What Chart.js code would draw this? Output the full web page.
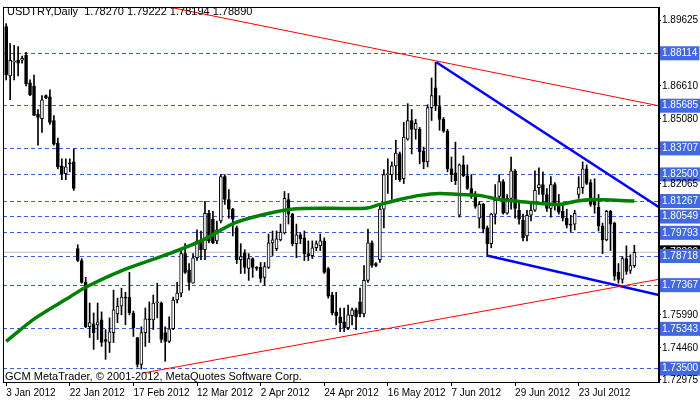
<!DOCTYPE html>
<html>
<head>
<meta charset="utf-8">
<script src="https://cdn.jsdelivr.net/npm/chart.js@4"></script>
<style>
    html, body { margin: 0; padding: 0; background: #ffffff; }
    #wrap { width: 700px; height: 402px; }
</style>
</head>
<body>
<div id="wrap"><canvas id="usdtry_chart"></canvas></div>
<script>
// daily candles USDTRY (bar index 0 = 3 Jan 2012)
const opens  = [1.8935,1.8706,1.8770,1.8779,1.8779,1.8802,1.8674,1.8660,1.8528,1.8509,1.8615,1.8610,1.8500,1.8395,1.8290,1.8253,1.8304,1.8308,
    1.7906,1.7851,1.7750,1.7544,1.7558,1.7553,1.7576,1.7485,1.7471,1.7517,1.7604,1.7640,1.7682,1.7682,1.7608,1.7494,1.7370,1.7517,1.7581,1.7576,1.7654,1.7654,
    1.7517,1.7476,1.7535,1.7668,1.7700,1.7883,1.7805,1.7746,1.7864,1.7942,1.7901,1.8070,1.8043,1.7942,1.8034,1.8240,1.8134,1.8089,1.8002,1.7855,
    1.7887,1.7814,1.7860,1.7819,1.7819,1.7773,1.7819,1.7933,1.7906,1.7947,1.7979,1.8134,1.8066,1.7929,1.7970,1.7956,1.7883,1.7874,1.7910,1.7919,
    1.7942,1.7814,1.7691,1.7613,1.7590,1.7567,1.7540,1.7595,1.7622,1.7659,1.7604,1.7759,1.7933,1.7837,1.7855,1.8089,1.8249,1.8249,1.8290,1.8345,
    1.8230,1.8413,1.8500,1.8459,1.8459,1.8358,1.8308,1.8560,1.8651,1.8564,1.8505,1.8450,1.8276,1.8258,1.8061,1.8294,1.8244,1.8185,1.8148,1.8047,
    1.8111,1.8002,1.7929,1.8066,1.8148,1.8217,1.8070,1.8139,1.8267,1.8084,1.8038,1.7965,1.8061,1.8084,1.8189,1.8203,1.8157,1.8093,1.8203,1.8111,
    1.8079,1.8047,1.8020,1.8020,1.8157,1.8189,1.8276,1.8212,1.8125,1.8098,1.8011,1.7947,1.8079,1.8025,1.7796,1.7764,1.7860,1.7805,1.7827];
const highs  = [1.8949,1.8857,1.8848,1.8843,1.8798,1.8816,1.8688,1.8711,1.8551,1.8615,1.8619,1.8642,1.8523,1.8418,1.8322,1.8322,1.8322,1.8368,
    1.7924,1.7860,1.7773,1.7654,1.7608,1.7654,1.7613,1.7531,1.7585,1.7714,1.7677,1.7723,1.7704,1.7796,1.7617,1.7494,1.7544,1.7631,1.7659,1.7691,1.7746,1.7659,
    1.7544,1.7590,1.7682,1.7750,1.7897,1.7929,1.7837,1.7883,1.7993,1.7988,1.8125,1.8084,1.8079,1.8034,1.8249,1.8249,1.8180,1.8093,1.8011,1.7929,
    1.7901,1.7883,1.7864,1.7823,1.7842,1.7842,1.7974,1.7988,1.7988,1.8020,1.8171,1.8162,1.8070,1.8020,1.7979,1.7988,1.7942,1.7942,1.7942,1.7974,
    1.7956,1.7819,1.7704,1.7704,1.7631,1.7631,1.7645,1.7631,1.7631,1.7723,1.7828,1.7997,1.7942,1.7842,1.8111,1.8272,1.8322,1.8308,1.8409,1.8354,
    1.8491,1.8578,1.8551,1.8505,1.8468,1.8377,1.8573,1.8697,1.8770,1.8615,1.8514,1.8459,1.8331,1.8400,1.8299,1.8336,1.8294,1.8249,1.8171,1.8125,
    1.8116,1.8011,1.8070,1.8203,1.8249,1.8226,1.8157,1.8331,1.8272,1.8116,1.8066,1.8084,1.8125,1.8267,1.8281,1.8262,1.8185,1.8240,1.8212,1.8157,
    1.8116,1.8089,1.8061,1.8084,1.8240,1.8308,1.8294,1.8226,1.8230,1.8157,1.8025,1.8084,1.8084,1.8029,1.7837,1.7869,1.7919,1.7878,1.7922];
const lows   = [1.8688,1.8596,1.8688,1.8706,1.8766,1.8660,1.8615,1.8523,1.8386,1.8445,1.8601,1.8482,1.8386,1.8276,1.8226,1.8226,1.8262,1.8176,
    1.7846,1.7746,1.7540,1.7494,1.7439,1.7485,1.7453,1.7393,1.7425,1.7471,1.7563,1.7599,1.7553,1.7599,1.7499,1.7357,1.7348,1.7453,1.7471,1.7531,1.7585,1.7471,
    1.7384,1.7471,1.7531,1.7654,1.7682,1.7791,1.7714,1.7746,1.7851,1.7855,1.7855,1.7933,1.7929,1.7929,1.8025,1.8111,1.8047,1.7965,1.7837,1.7791,
    1.7791,1.7759,1.7773,1.7805,1.7750,1.7736,1.7814,1.7874,1.7897,1.7942,1.7974,1.8020,1.7919,1.7864,1.7929,1.7851,1.7851,1.7860,1.7897,1.7897,
    1.7791,1.7677,1.7599,1.7553,1.7521,1.7521,1.7531,1.7553,1.7531,1.7590,1.7590,1.7750,1.7819,1.7823,1.7842,1.8002,1.8162,1.8134,1.8226,1.8217,
    1.8208,1.8409,1.8345,1.8413,1.8299,1.8276,1.8285,1.8500,1.8546,1.8455,1.8445,1.8262,1.8217,1.8203,1.8052,1.8240,1.8180,1.8139,1.8093,1.8002,
    1.7979,1.7874,1.7910,1.8020,1.8134,1.8066,1.8066,1.8089,1.8047,1.8020,1.7942,1.7942,1.8034,1.8079,1.8157,1.8111,1.8079,1.8052,1.8084,1.8066,
    1.8034,1.8002,1.7983,1.7993,1.8139,1.8162,1.8203,1.8102,1.8070,1.7988,1.7883,1.7942,1.7897,1.7759,1.7746,1.7746,1.7787,1.7791,1.7819];
const closes = [1.8711,1.8779,1.8775,1.8766,1.8788,1.8670,1.8619,1.8523,1.8514,1.8596,1.8605,1.8491,1.8390,1.8285,1.8253,1.8285,1.8299,1.8185,
    1.7851,1.7750,1.7544,1.7563,1.7517,1.7567,1.7471,1.7476,1.7521,1.7622,1.7640,1.7682,1.7677,1.7608,1.7540,1.7370,1.7517,1.7581,1.7576,1.7654,1.7659,1.7485,
    1.7476,1.7535,1.7668,1.7700,1.7883,1.7796,1.7750,1.7864,1.7942,1.7901,1.8070,1.7942,1.7933,1.7993,1.8240,1.8134,1.8089,1.8043,1.7855,1.7869,
    1.7819,1.7860,1.7819,1.7814,1.7768,1.7823,1.7933,1.7947,1.7951,1.7983,1.8139,1.8066,1.7929,1.7970,1.7951,1.7883,1.7874,1.7910,1.7929,1.7942,
    1.7796,1.7686,1.7608,1.7595,1.7563,1.7540,1.7599,1.7622,1.7590,1.7604,1.7759,1.7933,1.7828,1.7828,1.8089,1.8249,1.8253,1.8290,1.8349,1.8226,
    1.8423,1.8500,1.8459,1.8487,1.8354,1.8308,1.8560,1.8615,1.8569,1.8505,1.8450,1.8276,1.8249,1.8221,1.8294,1.8244,1.8185,1.8148,1.8102,1.8111,
    1.7997,1.7929,1.8066,1.8130,1.8217,1.8070,1.8139,1.8267,1.8093,1.8043,1.7956,1.8061,1.8084,1.8176,1.8203,1.8157,1.8093,1.8203,1.8107,1.8075,
    1.8047,1.8015,1.8015,1.8070,1.8189,1.8276,1.8208,1.8111,1.8107,1.8011,1.7947,1.8079,1.8020,1.7778,1.7764,1.7860,1.7800,1.7828,1.7889];

// moving average, read at a few bars
const ma_index = [0, 7.4, 16, 20, 28.5, 41, 49, 57.5, 64, 71.7, 81.7, 90.4, 94, 99, 104, 109, 114, 119, 124, 129, 134, 139, 143, 147, 158];
const ma_value = [1.7476,1.7585,1.7682,1.7727,1.7800,1.7883,1.7942,1.8025,1.8061,1.8089,1.8093,1.8093,1.8111,1.8134,1.8153,1.8162,1.8157,1.8153,1.8134,1.8125,1.8116,1.8111,1.8125,1.8134,1.8127];

// trend lines [index, price]
const red_upper  = [[40.9, 1.9026], [164.2, 1.8568]];
const red_lower  = [[34.2, 1.7329], [164.2, 1.7764]];
const blue_upper = [[108.2, 1.8770], [164.2, 1.8098]];
const blue_lower = [[120.9, 1.7874], [164.2, 1.7691]];
const bid_price  = 1.7889;

const date_ticks  = [0, 16, 32, 48, 64, 80, 96, 112, 128, 144];
const date_labels = ["3 Jan 2012","22 Jan 2012","17 Feb 2012","12 Mar 2012","2 Apr 2012","24 Apr 2012","16 May 2012","7 Jun 2012","29 Jun 2012","23 Jul 2012"];

const price_ticks = [1.89625,1.88114,1.86610,1.85685,1.85080,1.83707,1.82500,1.82065,1.81267,1.80549,1.79793,1.78890,1.78718,1.77367,1.75990,1.75343,1.74460,1.73500,1.72975];
const level_ticks = [1.88114,1.85685,1.83707,1.82500,1.81267,1.80549,1.79793,1.78718,1.77367,1.75343,1.73500];

function is_level(v){
    for (let l of level_ticks){ if (Math.abs(l - v) < 0.000005) return true; }
    return false;
}
function is_bid(v){ return Math.abs(v - bid_price) < 0.000005; }

let wicks = [], bodies = [], body_colors = [];
for (let i = 0; i < closes.length; i++){
    wicks.push({ x: i, y: [lows[i], highs[i]] });
    bodies.push({ x: i, y: [opens[i], closes[i]] });
    body_colors.push(closes[i] >= opens[i] ? "#ffffff" : "#000000");
}
let ma_points = [];
for (let i = 0; i < ma_index.length; i++){ ma_points.push({ x: ma_index[i], y: ma_value[i] }); }
function to_points(line){ return line.map(p => ({ x: p[0], y: p[1] })); }

const frame_plugin = {
    id: "frame",
    afterDraw(chart){
        const c = chart.ctx, a = chart.chartArea;
        c.save();
        c.strokeStyle = "#000000";
        c.lineWidth = 1;
        c.strokeRect(a.left + 0.5, a.top + 0.5, a.right - a.left - 1, a.bottom - a.top);
        c.font = "11px 'Liberation Sans'";
        c.fillStyle = "#000000";
        c.textBaseline = "alphabetic";
        c.fillText("USDTRY,Daily  1.78270 1.79222 1.78194 1.78890", 7, 15);
        c.fillText("GCM MetaTrader, \u00A9 2001-2012, MetaQuotes Software Corp.", 5, 380);
        c.restore();
    }
};

const ctx = document.getElementById("usdtry_chart").getContext("2d");
const chart = new Chart(ctx, {
    type: "bar",
    data: {
        datasets: [
            { type: "line", data: to_points(red_upper), borderColor: "#ff0000", borderWidth: 1, pointRadius: 0, order: 0 },
            { type: "line", data: to_points(red_lower), borderColor: "#ff0000", borderWidth: 1, pointRadius: 0, order: 0 },
            { type: "line", data: to_points(blue_upper), borderColor: "#0000ff", borderWidth: 2.5, pointRadius: 0, order: 0 },
            { type: "line", data: to_points(blue_lower), borderColor: "#0000ff", borderWidth: 2.5, pointRadius: 0, order: 0 },
            { type: "line", data: ma_points, borderColor: "#008000", borderWidth: 3.5, pointRadius: 0, tension: 0.3, order: 1 },
            { type: "line", data: [{ x: -1, y: bid_price }, { x: 165, y: bid_price }], borderColor: "#c0c0c0", borderWidth: 1, pointRadius: 0, order: 5 },
            { data: bodies, backgroundColor: body_colors, borderColor: "#000000", borderWidth: 1, borderSkipped: false,
              barThickness: 3, minBarLength: 1, order: 2, grouped: false },
            { data: wicks, backgroundColor: "#000000", borderWidth: 0, barThickness: 1, order: 3, grouped: false }
        ]
    },
    options: {
        responsive: true,
        maintainAspectRatio: false,
        animation: false,
        events: [],
        layout: { padding: { left: 3, top: 3, right: 0, bottom: 2 } },
        plugins: { legend: { display: false }, tooltip: { enabled: false } },
        scales: {
            x: {
                type: "linear",
                offset: false,
                min: -0.8,
                max: 164.2,
                afterBuildTicks: (axis) => { axis.ticks = date_ticks.map(v => ({ value: v })); },
                ticks: {
                    callback: (v) => date_labels[date_ticks.indexOf(v)],
                    align: "start",
                    maxRotation: 0,
                    autoSkip: false,
                    padding: 1,
                    color: "#000000",
                    font: { family: "'Liberation Sans'", size: 10 }
                },
                grid: { drawOnChartArea: false, offset: false, tickLength: 4, tickColor: "#000000" },
                border: { color: "#000000" }
            },
            y: {
                position: "right",
                min: 1.7288,
                max: 1.9026,
                afterBuildTicks: (axis) => { axis.ticks = price_ticks.map(v => ({ value: v })); },
                afterFit: (axis) => { axis.width = 41; },
                ticks: {
                    callback: (v) => v.toFixed(5),
                    autoSkip: false,
                    padding: 1,
                    color: (c) => (is_level(c.tick.value) || is_bid(c.tick.value)) ? "#ffffff" : "#000000",
                    showLabelBackdrop: (c) => is_level(c.tick.value) || is_bid(c.tick.value),
                    backdropColor: (c) => is_bid(c.tick.value) ? "#000000" : "#4169e1",
                    backdropPadding: { left: 2, right: 2, top: 1, bottom: 1 },
                    font: { family: "'Liberation Sans'", size: 10 }
                },
                grid: {
                    color: (c) => (c.tick && is_level(c.tick.value)) ? "#3a5ee0" : "rgba(0,0,0,0)",
                    tickColor: "#000000",
                    tickLength: 2,
                    lineWidth: 1
                },
                border: { color: "#000000", dash: [4, 3] }
            }
        }
    },
    plugins: [frame_plugin]
});
</script>
</body>
</html>
